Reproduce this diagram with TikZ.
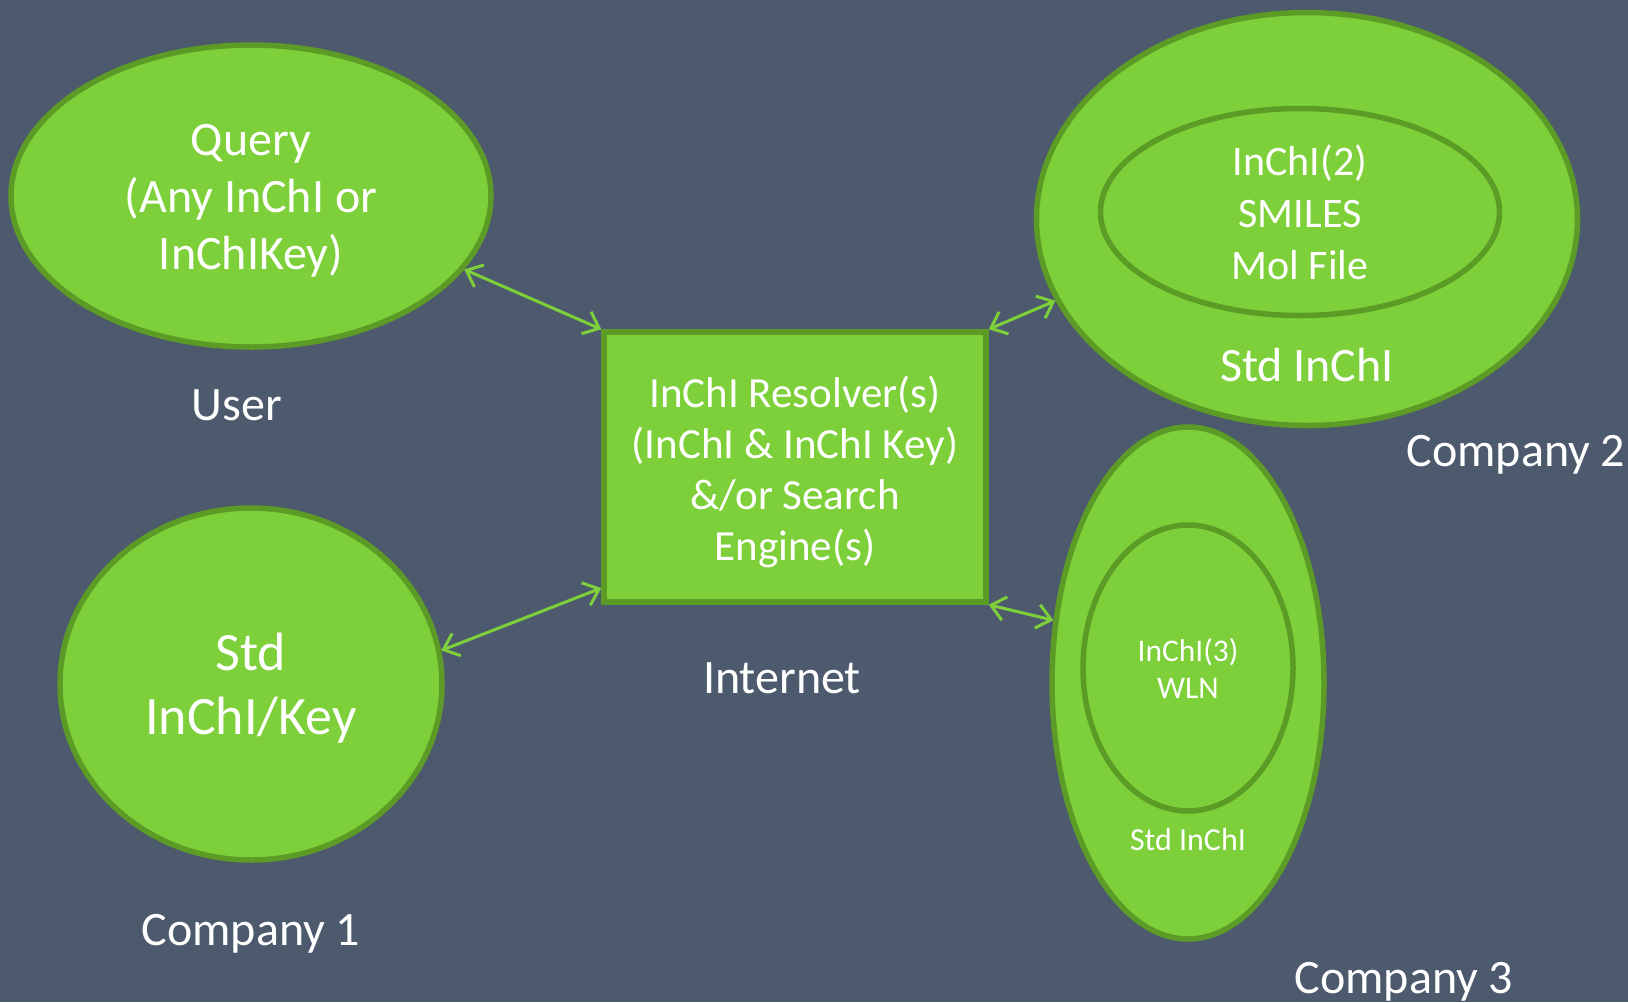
\documentclass[tikz,border=0pt]{standalone}
\usepackage{fontspec}
\setmainfont{Carlito}
\usetikzlibrary{arrows.meta,shapes.geometric}
\definecolor{slate}{RGB}{77,90,110}
\definecolor{leaf}{RGB}{125,208,58}
\definecolor{leafdark}{RGB}{92,155,38}

\begin{document}
\begin{tikzpicture}[x=1pt,y=-1pt, >={Straight Barb[length=14pt,width=24pt]},
 blob/.style={ellipse,draw=leafdark,fill=leaf,line width=5.5pt,inner sep=0pt,text=white,align=center},
 box/.style={rectangle,draw=leafdark,fill=leaf,line width=5.5pt,text=white,align=center},
 lbl/.style={text=white,align=center,font=\fontsize{48}{58}\selectfont},
 link/.style={<->,leaf,line width=3pt}]
\fill[slate] (0,0) rectangle (1628,1002);
\useasboundingbox (0,0) rectangle (1628,1002);
% user side
\node[blob,minimum width=480pt,minimum height=302pt] (query) at (251,196) {};
\node[lbl,font=\fontsize{48}{57}\selectfont] (querytxt) at (251,201) {Query\\(Any InChI or\\InChIKey)};
\node[lbl] (user) at (237,405) {User};
\node[blob,minimum width=382pt,minimum height=352pt] (std) at (251,684) {};
\node[lbl,font=\fontsize{54}{64}\selectfont] (stdtxt) at (251,688) {Std\\InChI/Key};
\node[lbl] (comp1) at (251,934) {Company 1};
% resolver
\node[box,minimum width=382pt,minimum height=270pt] (box) at (795,467) {};
\node[lbl,font=\fontsize{43}{51}\selectfont] (boxtxt) at (795,472)
 {InChI Resolver(s)\\(InChI \& InChI Key)\\\&/or Search\\Engine(s)};
\node[lbl] (net) at (782,678) {Internet};
% company 2
\node[blob,minimum width=541pt,minimum height=413pt] (comp2) at (1307,219) {};
\node[blob,minimum width=399pt,minimum height=207pt,font=\fontsize{42}{52}\selectfont] (comp2in) at (1300,212)
 {InChI(2)\\SMILES\\Mol File};
\node[lbl] (comp2std) at (1307,365) {Std InChI};
\node[lbl] (comp2lbl) at (1516,455) {Company 2};
% company 3
\node[blob,minimum width=272pt,minimum height=512pt] (comp3) at (1188,683) {};
\node[blob,minimum width=210pt,minimum height=286pt,font=\fontsize{31.5}{37}\selectfont] (comp3in) at (1188,668)
 {InChI(3)\\WLN};
\node[lbl,font=\fontsize{32}{37}\selectfont] (comp3std) at (1188,839) {Std InChI};
\node[lbl] (comp3lbl) at (1404,982) {Company 3};
% links
\draw[link] (query.-19) -- (box.north west);
\draw[link] (std.10) -- (box.-148);
\draw[link] (box.north east) -- (comp2.-162);
\draw[link] (box.south east) -- (comp3.155);
\end{tikzpicture}
\end{document}
